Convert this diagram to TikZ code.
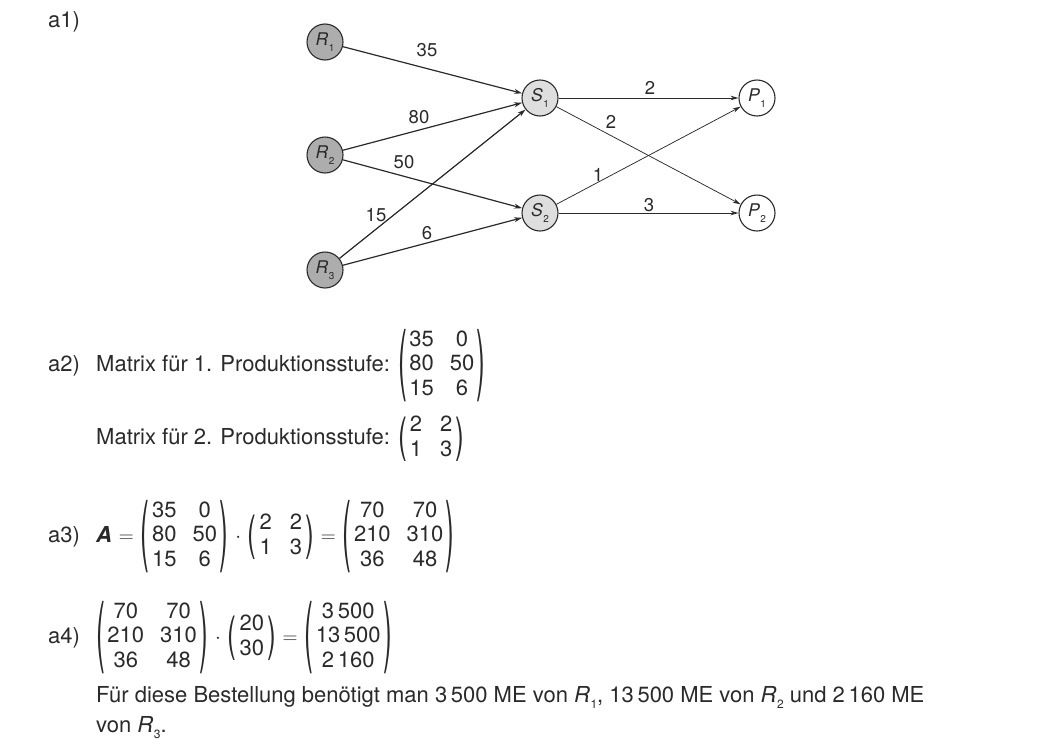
\documentclass[tikz,border=0pt]{standalone}
\usepackage{amsmath}
\usepackage{graphicx}
\usepackage{fontspec}
\setmainfont{TeX Gyre Heros}
\usetikzlibrary{arrows.meta}
\definecolor{ink}{HTML}{2A2A2A}
\definecolor{rfill}{HTML}{ADADAD}
\definecolor{sfill}{HTML}{DEDEDE}
\newcommand{\nsub}[2]{\textit{#1}\kern0.5pt\raisebox{-6pt}{\fontsize{10}{11}\selectfont #2}}
\newcommand{\tsub}[2]{\textit{#1}\kern0.5pt\raisebox{-6pt}{\fontsize{12}{13}\selectfont #2}}
\newcommand{\tx}[1]{\text{#1}}
\newcommand{\parL}[1]{\vcenter{\hbox{\scalebox{1.2}[#1]{(}}}}
\newcommand{\parR}[1]{\vcenter{\hbox{\scalebox{1.2}[#1]{)}}}}
\newcommand{\pmat}[1]{\parL{3.5}\kern2.5pt\begin{matrix}#1\end{matrix}\kern2.5pt\parR{3.5}}
\newcommand{\spmat}[1]{{\setlength{\arraycolsep}{9pt}\parL{2.15}\kern3pt\begin{matrix}#1\end{matrix}\kern3pt\parR{2.15}}}
\renewcommand{\arraystretch}{0.95}
\begin{document}
\begin{tikzpicture}[x=1pt,y=-1pt,
  every node/.style={text=ink,font=\fontsize{18.5}{22}\selectfont},
  vertex/.style={circle,draw=ink,line width=1.1pt,minimum size=36pt,inner sep=0pt,font=\fontsize{17.5}{20}\selectfont},
  rnode/.style={vertex,fill=rfill},
  snode/.style={vertex,fill=sfill},
  pnode/.style={vertex,fill=white},
  thick edge/.style={draw=ink,line width=1.2pt,-{Stealth[length=8pt,width=5pt]}},
  thin edge/.style={draw=ink,line width=0.75pt,-{Stealth[length=8pt,width=4.5pt]}},
  lab/.style={inner sep=1pt},
  txt/.style={anchor=base west,inner sep=0pt,font=\fontsize{22}{26}\selectfont}]
\useasboundingbox (0,0) rectangle (1040,755);
\setlength{\arraycolsep}{8pt}
\thickmuskip=6mu
\medmuskip=6mu

% nodes
\node[rnode] (R1) at (325,42) {\nsub{R}{1}};
\node[rnode] (R2) at (325,155) {\nsub{R}{2}};
\node[rnode] (R3) at (325,270) {\nsub{R}{3}};
\node[snode] (S1) at (540,98) {\nsub{S}{1}};
\node[snode] (S2) at (540,213) {\nsub{S}{2}};
\node[pnode] (P1) at (757,98) {\nsub{P}{1}};
\node[pnode] (P2) at (757,213) {\nsub{P}{2}};

% edges
\draw[thick edge] (R1) -- (S1);
\draw[thick edge] (R2) -- (S1);
\draw[thick edge] (R3) -- (S1);
\draw[thick edge] (R2) -- (S2);
\draw[thick edge] (R3) -- (S2);
\draw[thin edge] (S1) -- (P1);
\draw[thin edge] (S1) -- (P2);
\draw[thin edge] (S2) -- (P1);
\draw[thin edge] (S2) -- (P2);

% edge labels
\node[lab] (l35) at (427,50) {35};
\node[lab] (l80) at (419,117) {80};
\node[lab] (l50) at (404,162) {50};
\node[lab] (l15) at (376,215) {15};
\node[lab] (l6) at (427,233) {6};
\node[lab] (l2a) at (650,88) {2};
\node[lab] (l2b) at (611,122) {2};
\node[lab] (l1) at (598,175) {1};
\node[lab] (l3) at (649,205) {3};

% text
\node[txt] (a1) at (48,27) {a1)};

\node[txt] (a2) at (48,371) {a2)};
\node[txt] (m1) at (96,371) {Matrix für 1. Produktionsstufe: $\pmat{\tx{35}&\tx{0}\\ \tx{80}&\tx{50}\\ \tx{15}&\tx{6}}$};
\node[txt] (m2) at (96,444) {Matrix für 2. Produktionsstufe: $\spmat{\tx{2}&\tx{2}\\ \tx{1}&\tx{3}}$};

\node[txt] (a3) at (48,542) {a3)};
\node[txt] (e3) at (96,542) {$\tx{\textbf{\textit{A}}} = \pmat{\tx{35}&\tx{0}\\ \tx{80}&\tx{50}\\ \tx{15}&\tx{6}} \cdot \spmat{\tx{2}&\tx{2}\\ \tx{1}&\tx{3}} = \pmat{\tx{70}&\tx{70}\\ \tx{210}&\tx{310}\\ \tx{36}&\tx{48}}$};

\node[txt] (a4) at (48,643) {a4)};
\node[txt] (e4) at (96,643) {$\pmat{\tx{70}&\tx{70}\\ \tx{210}&\tx{310}\\ \tx{36}&\tx{48}} \cdot \spmat{\tx{20}\\ \tx{30}} = \pmat{\tx{3\,500}\\ \tx{13\,500}\\ \tx{2\,160}}$};

\node[txt] (f1) at (96,702) {Für diese Bestellung benötigt man 3\,500 ME von \tsub{R}{1}, 13\,500 ME von \tsub{R}{2} und 2\,160 ME};
\node[txt] (f2) at (96,732) {von \tsub{R}{3}.};
\end{tikzpicture}
\end{document}
